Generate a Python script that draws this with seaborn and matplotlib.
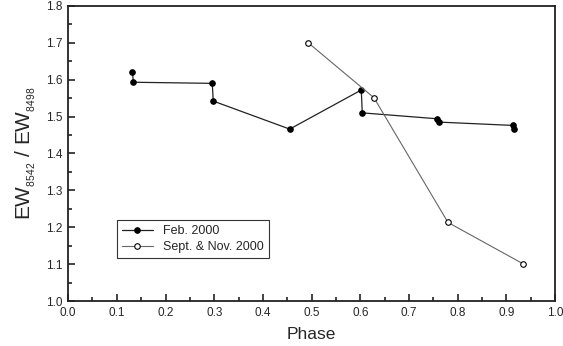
import pandas as pd
import matplotlib
matplotlib.use("Agg")
import matplotlib.pyplot as plt
import seaborn as sns
from matplotlib.ticker import MultipleLocator

# Feb. 2000 (filled circles)
feb_phase = [0.132, 0.134, 0.296, 0.298, 0.455, 0.602, 0.604, 0.758, 0.761, 0.913, 0.916]
feb_ratio = [1.621, 1.593, 1.590, 1.542, 1.466, 1.572, 1.510, 1.494, 1.485, 1.476, 1.466]

# Sept. & Nov. 2000 (open circles)
sep_phase = [0.493, 0.628, 0.780, 0.934]
sep_ratio = [1.700, 1.551, 1.213, 1.101]

sns.set_style("ticks")
plt.rcParams["font.family"] = ["Liberation Sans", "DejaVu Sans"]
plt.rcParams["mathtext.default"] = "regular"

feb = pd.DataFrame({"phase": feb_phase, "ratio": feb_ratio})
sep = pd.DataFrame({"phase": sep_phase, "ratio": sep_ratio})

fig = plt.figure(figsize=(5.63, 3.46), dpi=100)
ax = fig.add_axes([0.121, 0.130, 0.865, 0.853])

sns.lineplot(data=feb, x="phase", y="ratio", ax=ax, sort=False, estimator=None,
             color="#222222", lw=0.9, marker="o", markersize=4,
             markerfacecolor="black", markeredgecolor="black",
             label="Feb. 2000")
sns.lineplot(data=sep, x="phase", y="ratio", ax=ax, sort=False, estimator=None,
             color="#666666", lw=0.8, marker="o", markersize=4,
             markerfacecolor="white", markeredgecolor="black", markeredgewidth=0.8,
             label="Sept. & Nov. 2000")

ax.set_xlim(0.0, 1.0)
ax.set_ylim(1.0, 1.8)
ax.xaxis.set_major_locator(MultipleLocator(0.1))
ax.xaxis.set_minor_locator(MultipleLocator(0.05))
ax.yaxis.set_major_locator(MultipleLocator(0.1))
ax.yaxis.set_minor_locator(MultipleLocator(0.05))
ax.tick_params(which="both", direction="in", top=False, right=False,
               labelsize=8.5, width=1.2, color="#222222", pad=4)
ax.tick_params(which="major", length=5)
ax.tick_params(which="minor", length=3)
for s in ax.spines.values():
    s.set_linewidth(1.3)
    s.set_color("#222222")

ax.set_xlabel("Phase", fontsize=12.5, labelpad=6)
ax.set_ylabel("EW$_{_{8542}}$ / EW$_{_{8498}}$", fontsize=15, labelpad=6)

leg = ax.legend(loc="lower left", bbox_to_anchor=(0.10, 0.146), fontsize=9,
                frameon=True, fancybox=False, edgecolor="black",
                handlelength=2.5, borderpad=0.4, labelspacing=0.3, borderaxespad=0)
leg.get_frame().set_linewidth(0.8)

fig.savefig("out.png", dpi=100)
